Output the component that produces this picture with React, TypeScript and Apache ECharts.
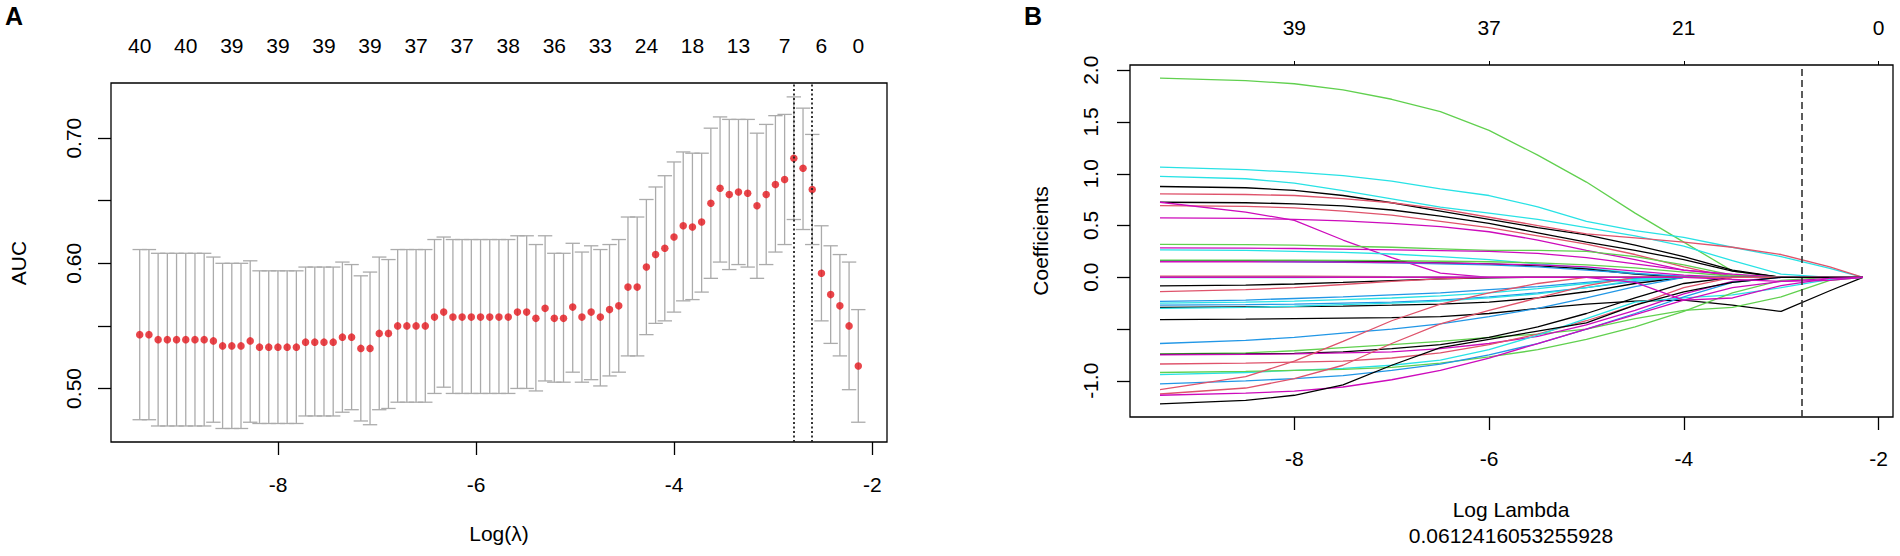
import React, { useEffect, useRef } from "react";
import * as echarts from "echarts";

// ---------- Panel A: cross-validated AUC ----------
const logLambdaA = [
  -9.398, -9.305, -9.212, -9.119, -9.026, -8.933, -8.84, -8.747, -8.654, -8.561,
  -8.468, -8.375, -8.282, -8.188, -8.095, -8.002, -7.909, -7.816, -7.723, -7.63,
  -7.537, -7.444, -7.351, -7.258, -7.165, -7.072, -6.979, -6.886, -6.793, -6.7,
  -6.607, -6.514, -6.421, -6.328, -6.235, -6.142, -6.049, -5.956, -5.863, -5.77,
  -5.676, -5.583, -5.49, -5.397, -5.304, -5.211, -5.118, -5.025, -4.932, -4.839,
  -4.746, -4.653, -4.56, -4.467, -4.374, -4.281, -4.188, -4.095, -4.002, -3.909,
  -3.816, -3.723, -3.63, -3.537, -3.444, -3.351, -3.258, -3.164, -3.071, -2.978,
  -2.885, -2.792, -2.699, -2.606, -2.513, -2.42, -2.327, -2.234, -2.141,
];
const aucMean = [
  0.543, 0.543, 0.539, 0.539, 0.539, 0.539, 0.539, 0.539, 0.538, 0.534,
  0.534, 0.534, 0.538, 0.533, 0.533, 0.533, 0.533, 0.533, 0.537, 0.537,
  0.537, 0.537, 0.541, 0.541, 0.532, 0.532, 0.544, 0.544, 0.55, 0.55,
  0.55, 0.55, 0.557, 0.561, 0.557, 0.557, 0.557, 0.557, 0.557, 0.557,
  0.557, 0.561, 0.561, 0.556, 0.564, 0.556, 0.556, 0.565, 0.557, 0.561,
  0.557, 0.563, 0.566, 0.581, 0.581, 0.597, 0.607, 0.612, 0.621, 0.63,
  0.629, 0.633, 0.648, 0.66, 0.655, 0.657, 0.656, 0.646, 0.655, 0.663,
  0.667, 0.684, 0.676, 0.659, 0.592, 0.575, 0.566, 0.55, 0.518,
];
const aucUpper = [
  0.611, 0.611, 0.608, 0.608, 0.608, 0.608, 0.608, 0.608, 0.605, 0.6,
  0.6, 0.6, 0.602, 0.594, 0.594, 0.594, 0.594, 0.594, 0.597, 0.597,
  0.597, 0.597, 0.601, 0.599, 0.59, 0.593, 0.605, 0.603, 0.611, 0.611,
  0.611, 0.611, 0.619, 0.621, 0.619, 0.619, 0.619, 0.619, 0.619, 0.619,
  0.619, 0.622, 0.622, 0.615, 0.622, 0.608, 0.608, 0.616, 0.609, 0.614,
  0.611, 0.615, 0.619, 0.637, 0.637, 0.651, 0.661, 0.67, 0.681, 0.689,
  0.688, 0.688, 0.708, 0.717, 0.715, 0.715, 0.715, 0.704, 0.711, 0.718,
  0.719, 0.733, 0.724, 0.703, 0.63, 0.614, 0.607, 0.601, 0.563,
];
const aucLower = [
  0.475, 0.475, 0.47, 0.47, 0.47, 0.47, 0.47, 0.47, 0.473, 0.468,
  0.468, 0.468, 0.473, 0.472, 0.472, 0.472, 0.472, 0.472, 0.478, 0.478,
  0.478, 0.478, 0.481, 0.483, 0.474, 0.471, 0.483, 0.484, 0.489, 0.489,
  0.489, 0.489, 0.496, 0.501, 0.496, 0.496, 0.496, 0.496, 0.496, 0.496,
  0.496, 0.5, 0.5, 0.498, 0.506, 0.505, 0.505, 0.513, 0.505, 0.507,
  0.502, 0.51, 0.513, 0.526, 0.526, 0.543, 0.552, 0.554, 0.561, 0.57,
  0.571, 0.577, 0.588, 0.601, 0.595, 0.599, 0.597, 0.588, 0.599, 0.609,
  0.615, 0.635, 0.627, 0.615, 0.554, 0.536, 0.526, 0.499, 0.473,
];
const topLambdaA = [
  -9.398, -8.933, -8.468, -8.002, -7.537, -7.072, -6.607, -6.142, -5.676,
  -5.211, -4.746, -4.281, -3.816, -3.351, -2.885, -2.513, -2.141,
];
const topTextA = ["40", "40", "39", "39", "39", "39", "37", "37", "38", "36", "33", "24", "18", "13", "7", "6", "0"];
const xTicksA = [-8, -6, -4, -2];
const yTicksA = [0.5, 0.55, 0.6, 0.65, 0.7];
const yLabelsA = [0.5, 0.6, 0.7];
const minIdxA = 71; // lambda.min
const seIdxA = 73; // lambda.1se

// ---------- Panel B: coefficient paths ----------
const lambdaMin = 0.0612416053255928;
const bLogLambda = [-9.38, -8.5, -8, -7.5, -7, -6.5, -6, -5.5, -5, -4.5, -4, -3.5, -3, -2.5, -2.16];
const K = "#000000", RD = "#DF536B", GR = "#61D04F", BL = "#2297E6", CY = "#28E2E5", MG = "#CD0BBC";
const coefColors = [
  GR, CY, CY, K, K, RD, RD, MG, MG, GR,
  MG, CY, K, BL, GR, MG, RD, CY, K, RD,
  BL, CY, BL, K, CY, K, BL, GR, K, MG,
  RD, CY, GR, BL, RD, RD, MG, K, MG, MG,
];
const coefPaths = [
  [1.925, 1.9, 1.87, 1.81, 1.72, 1.6, 1.42, 1.18, 0.92, 0.62, 0.34, 0.06, 0, 0, 0],
  [1.064, 1.04, 1.015, 0.983, 0.93, 0.855, 0.79, 0.68, 0.54, 0.45, 0.385, 0.29, 0.2, 0.085, 0],
  [0.974, 0.952, 0.91, 0.838, 0.758, 0.677, 0.62, 0.56, 0.48, 0.4, 0.3, 0.16, 0.03, 0, 0],
  [0.877, 0.865, 0.84, 0.79, 0.72, 0.64, 0.56, 0.48, 0.41, 0.31, 0.2, 0.07, 0, 0, 0],
  [0.725, 0.72, 0.71, 0.69, 0.65, 0.59, 0.52, 0.43, 0.34, 0.26, 0.17, 0.06, 0, 0, 0],
  [0.806, 0.8, 0.79, 0.76, 0.72, 0.66, 0.58, 0.5, 0.42, 0.38, 0.34, 0.29, 0.22, 0.1, 0],
  [0.693, 0.685, 0.67, 0.64, 0.6, 0.54, 0.48, 0.4, 0.32, 0.22, 0.1, 0, 0, 0, 0],
  [0.725, 0.63, 0.55, 0.36, 0.19, 0.04, 0, 0, 0, 0, 0, 0, 0, 0, 0],
  [0.574, 0.57, 0.56, 0.545, 0.52, 0.49, 0.44, 0.36, 0.26, 0.17, 0.07, 0.02, 0, 0, 0],
  [0.317, 0.315, 0.31, 0.3, 0.29, 0.275, 0.26, 0.26, 0.25, 0.2, 0.12, 0.02, 0, 0, 0],
  [0.284, 0.282, 0.278, 0.272, 0.265, 0.258, 0.25, 0.23, 0.19, 0.13, 0.07, 0.03, 0, 0, 0],
  [0.265, 0.26, 0.25, 0.24, 0.225, 0.2, 0.17, 0.13, 0.09, 0.04, 0, 0, 0, 0, 0],
  [0.161, 0.16, 0.158, 0.155, 0.15, 0.14, 0.13, 0.11, 0.08, 0.03, 0, 0, 0, 0, 0],
  [0.155, 0.153, 0.15, 0.145, 0.14, 0.13, 0.12, 0.1, 0.07, 0.035, 0.01, 0, 0, 0, 0],
  [0.165, 0.165, 0.165, 0.163, 0.16, 0.155, 0.15, 0.14, 0.12, 0.09, 0.05, 0.01, 0, 0, 0],
  [0.15, 0.15, 0.148, 0.146, 0.143, 0.14, 0.13, 0.12, 0.1, 0.06, 0.02, 0, 0, 0, 0],
  [0.01, 0.01, 0.01, 0.008, 0.005, 0.003, 0, 0, 0, 0, 0, 0, 0, 0, 0],
  [-0.002, -0.002, -0.002, -0.001, -0.001, 0, 0, 0, 0, 0, 0, 0, 0, 0, 0],
  [-0.083, -0.075, -0.065, -0.05, -0.032, -0.015, -0.005, 0, 0, 0, 0, 0, 0, 0, 0],
  [-0.138, -0.12, -0.1, -0.07, -0.04, -0.015, 0, 0, 0, 0, 0, 0, 0, 0, 0],
  [-0.232, -0.22, -0.205, -0.19, -0.17, -0.15, -0.12, -0.09, -0.05, -0.01, 0, 0, 0, 0, 0],
  [-0.25, -0.24, -0.23, -0.215, -0.2, -0.18, -0.15, -0.11, -0.06, -0.02, 0, 0, 0, 0, 0],
  [-0.27, -0.265, -0.26, -0.25, -0.24, -0.22, -0.19, -0.15, -0.1, -0.04, 0, 0, 0, 0, 0],
  [-0.29, -0.287, -0.283, -0.278, -0.27, -0.26, -0.24, -0.2, -0.14, -0.06, 0, 0, 0, 0, 0],
  [-0.3, -0.29, -0.28, -0.265, -0.25, -0.23, -0.2, -0.16, -0.1, -0.03, 0, 0, 0, 0, 0],
  [-0.41, -0.405, -0.4, -0.395, -0.39, -0.38, -0.35, -0.3, -0.26, -0.23, -0.22, -0.27, -0.33, -0.13, 0],
  [-0.64, -0.61, -0.58, -0.54, -0.5, -0.45, -0.38, -0.3, -0.2, -0.09, 0, 0, 0, 0, 0],
  [-0.741, -0.73, -0.71, -0.68, -0.65, -0.62, -0.58, -0.55, -0.5, -0.4, -0.32, -0.29, -0.19, -0.03, 0],
  [-0.745, -0.74, -0.735, -0.72, -0.69, -0.65, -0.58, -0.48, -0.35, -0.2, -0.06, 0, 0, 0, 0],
  [-0.75, -0.745, -0.74, -0.73, -0.72, -0.69, -0.64, -0.57, -0.46, -0.32, -0.16, -0.04, 0, 0, 0],
  [-0.838, -0.83, -0.82, -0.81, -0.78, -0.73, -0.65, -0.55, -0.42, -0.27, -0.1, 0, 0, 0, 0],
  [-0.94, -0.92, -0.9, -0.88, -0.85, -0.8, -0.7, -0.56, -0.4, -0.24, -0.2, -0.17, -0.1, -0.02, 0],
  [-0.92, -0.91, -0.9, -0.89, -0.87, -0.83, -0.77, -0.7, -0.6, -0.48, -0.33, -0.15, -0.03, 0, 0],
  [-1.03, -1.0, -0.98, -0.95, -0.9, -0.84, -0.75, -0.64, -0.5, -0.35, -0.19, -0.05, 0, 0, 0],
  [-1.086, -0.96, -0.81, -0.62, -0.42, -0.26, -0.15, -0.06, 0, 0, 0, 0, 0, 0, 0],
  [-1.128, -1.07, -0.98, -0.85, -0.64, -0.45, -0.32, -0.2, -0.08, 0, 0, 0, 0, 0, 0],
  [-1.14, -1.12, -1.1, -1.06, -0.99, -0.9, -0.78, -0.64, -0.5, -0.36, -0.22, -0.1, -0.04, -0.01, 0],
  [-1.224, -1.19, -1.14, -1.04, -0.85, -0.68, -0.6, -0.52, -0.44, -0.27, -0.14, -0.05, 0, 0, 0],
  [0, 0, 0, 0, 0, 0, 0, 0, 0, -0.05, -0.22, -0.2, -0.08, -0.01, 0],
  [0, 0, 0, 0, 0, 0, 0, 0, 0, 0, 0, -0.02, -0.04, -0.03, 0],
];
const xTicksB = [-8, -6, -4, -2];
const topTextB = ["39", "37", "21", "0"];
const yTicksB = [-1, -0.5, 0, 0.5, 1, 1.5, 2];
const yLabelsB = [-1, 0, 0.5, 1, 1.5, 2];

const FONT = "'Liberation Sans', Arial, Helvetica, sans-serif";
const FS = 21;
const CAP_HALF = 0.0726;

function nearestLabel(v: number, pos: number[], txt: string[]) {
  let best = 0;
  for (let i = 1; i < pos.length; i++) {
    if (Math.abs(pos[i] - v) < Math.abs(pos[best] - v)) best = i;
  }
  return txt[best];
}

function buildOption(): any {
  const lbl = { color: "#000", fontSize: FS, fontFamily: FONT };
  const tickStyle = { color: "#000", width: 1.3 };
  const noLine = { show: false, onZero: false };

  const lineSeries = coefPaths.map((path, k) => ({
    type: "line",
    xAxisIndex: 2,
    yAxisIndex: 1,
    data: bLogLambda.map((x, j) => [x, path[j]]),
    showSymbol: false,
    symbol: "none",
    silent: true,
    lineStyle: { color: coefColors[k], width: 1.3 },
    itemStyle: { color: coefColors[k] },
    z: 2,
    ...(k === 0
      ? {
          markLine: {
            silent: true,
            symbol: "none",
            label: { show: false },
            lineStyle: { type: [7, 4], color: "#333", width: 1.6 },
            data: [{ xAxis: Math.log(lambdaMin) }],
          },
        }
      : {}),
  }));

  return {
    animation: false,
    backgroundColor: "#fff",
    textStyle: { fontFamily: FONT },
    grid: [
      { left: 111, top: 83, width: 776, height: 359, show: true, borderColor: "#000", borderWidth: 1.3, backgroundColor: "transparent" },
      { left: 1130, top: 65, width: 763, height: 352, show: true, borderColor: "#000", borderWidth: 1.3, backgroundColor: "transparent" },
    ],
    xAxis: [
      {
        gridIndex: 0, type: "value", position: "bottom", min: -9.688, max: -1.851,
        axisLine: noLine, splitLine: { show: false },
        axisTick: { show: true, length: 13, lineStyle: tickStyle, customValues: xTicksA },
        axisLabel: { ...lbl, customValues: xTicksA, margin: 32 },
      },
      {
        gridIndex: 0, type: "value", position: "top", min: -9.688, max: -1.851,
        axisLine: noLine, splitLine: { show: false }, axisTick: { show: false },
        axisLabel: {
          ...lbl, customValues: topLambdaA, margin: 27,
          formatter: (v: number) => nearestLabel(v, topLambdaA, topTextA),
        },
      },
      {
        gridIndex: 1, type: "value", position: "bottom", min: -9.688, max: -1.851,
        axisLine: noLine, splitLine: { show: false },
        axisTick: { show: true, length: 13, lineStyle: tickStyle, customValues: xTicksB },
        axisLabel: { ...lbl, customValues: xTicksB, margin: 31 },
      },
      {
        gridIndex: 1, type: "value", position: "top", min: -9.688, max: -1.851,
        axisLine: noLine, splitLine: { show: false },
        axisTick: { show: true, length: 4, lineStyle: { color: "#000", width: 1 }, customValues: xTicksB },
        axisLabel: {
          ...lbl, customValues: xTicksB, margin: 27,
          formatter: (v: number) => nearestLabel(v, xTicksB, topTextB),
        },
      },
    ],
    yAxis: [
      {
        gridIndex: 0, type: "value", min: 0.4572, max: 0.7441,
        axisLine: noLine, splitLine: { show: false },
        axisTick: { show: true, length: 13, lineStyle: tickStyle, customValues: yTicksA },
        axisLabel: { ...lbl, customValues: yLabelsA, rotate: 90, margin: 27, formatter: (v: number) => v.toFixed(2) },
      },
      {
        gridIndex: 1, type: "value", min: -1.35, max: 2.051,
        axisLine: noLine, splitLine: { show: false },
        axisTick: { show: true, length: 13, lineStyle: tickStyle, customValues: yTicksB },
        axisLabel: { ...lbl, customValues: yLabelsB, rotate: 90, margin: 29, formatter: (v: number) => v.toFixed(1) },
      },
    ],
    series: [
      {
        type: "custom",
        xAxisIndex: 0,
        yAxisIndex: 0,
        silent: true,
        data: logLambdaA.map((x, i) => [x, aucUpper[i], aucLower[i]]),
        encode: { x: 0, y: [1, 2] },
        renderItem: (_params: any, api: any) => {
          const x = api.value(0);
          const up = api.value(1);
          const lo = api.value(2);
          const pTop = api.coord([x, up]);
          const pBot = api.coord([x, lo]);
          const l = api.coord([x - CAP_HALF, up])[0];
          const r = api.coord([x + CAP_HALF, up])[0];
          const style = { stroke: "#ABABAB", lineWidth: 1.3 };
          return {
            type: "group",
            children: [
              { type: "line", shape: { x1: pTop[0], y1: pTop[1], x2: pBot[0], y2: pBot[1] }, style },
              { type: "line", shape: { x1: l, y1: pTop[1], x2: r, y2: pTop[1] }, style },
              { type: "line", shape: { x1: l, y1: pBot[1], x2: r, y2: pBot[1] }, style },
            ],
          };
        },
        z: 2,
      },
      {
        type: "scatter",
        xAxisIndex: 0,
        yAxisIndex: 0,
        silent: true,
        data: logLambdaA.map((x, i) => [x, aucMean[i]]),
        symbolSize: 7.5,
        itemStyle: { color: "#E3161D" },
        z: 3,
        markLine: {
          silent: true,
          symbol: "none",
          label: { show: false },
          lineStyle: { type: [2, 2.5], color: "#222", width: 1.8 },
          data: [{ xAxis: logLambdaA[minIdxA] }, { xAxis: logLambdaA[seIdxA] }],
        },
      },
      ...lineSeries,
    ],
    graphic: [
      { type: "text", x: 14, y: 16, style: { text: "A", fontSize: 25, fontWeight: "bold", fontFamily: FONT, fill: "#000", align: "center", verticalAlign: "middle", textAlign: "center", textVerticalAlign: "middle" } },
      { type: "text", x: 1033, y: 16, style: { text: "B", fontSize: 25, fontWeight: "bold", fontFamily: FONT, fill: "#000", align: "center", verticalAlign: "middle", textAlign: "center", textVerticalAlign: "middle" } },
      { type: "text", x: 18, y: 263, rotation: Math.PI / 2, style: { text: "AUC", fontSize: FS, fontFamily: FONT, fill: "#000", align: "center", verticalAlign: "middle", textAlign: "center", textVerticalAlign: "middle" } },
      { type: "text", x: 499, y: 533, style: { text: "Log(λ)", fontSize: FS, fontFamily: FONT, fill: "#000", align: "center", verticalAlign: "middle", textAlign: "center", textVerticalAlign: "middle" } },
      { type: "text", x: 1040, y: 241, rotation: Math.PI / 2, style: { text: "Coefficients", fontSize: FS, fontFamily: FONT, fill: "#000", align: "center", verticalAlign: "middle", textAlign: "center", textVerticalAlign: "middle" } },
      { type: "text", x: 1511, y: 509, style: { text: "Log Lambda", fontSize: FS, fontFamily: FONT, fill: "#000", align: "center", verticalAlign: "middle", textAlign: "center", textVerticalAlign: "middle" } },
      { type: "text", x: 1511, y: 535, style: { text: String(lambdaMin), fontSize: FS, fontFamily: FONT, fill: "#000", align: "center", verticalAlign: "middle", textAlign: "center", textVerticalAlign: "middle" } },
    ],
  };
}

export default function App() {
  const ref = useRef<HTMLDivElement>(null);
  useEffect(() => {
    document.body.style.margin = "0";
    if (!ref.current) return;
    const chart = echarts.init(ref.current, undefined, { renderer: "svg" });
    chart.setOption(buildOption());
    return () => chart.dispose();
  }, []);
  return (
    <div
      ref={ref}
      style={{ position: "fixed", left: 0, top: 0, width: 1900, height: 556, background: "#fff" }}
    />
  );
}
